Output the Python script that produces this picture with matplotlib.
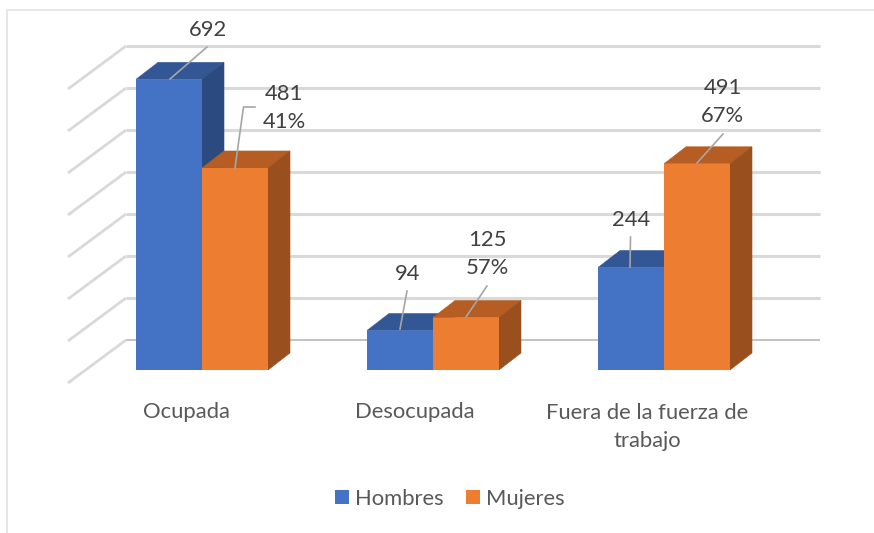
import matplotlib
matplotlib.use('Agg')
import matplotlib.pyplot as plt
from matplotlib.patches import Polygon

plt.rcParams['font.family'] = ['Lato', 'DejaVu Sans']

categories = ['Ocupada', 'Desocupada', 'Fuera de la fuerza de\ntrabajo']
hombres = [692, 94, 244]
mujeres = [481, 125, 491]
pct_mujeres = ['41%', '57%', '67%']
grid_values = [0, 100, 200, 300, 400, 500, 600, 700]

colors_h = ('#4472C4', '#335795', '#2A4A80')  # front, top, side
colors_m = ('#ED7D31', '#B55D22', '#99501E')

# pixel sizes of the picture
W, H = 874, 533
k = 0.42       # pixels per unit
x_step = 231   # pixels per category
x0, y0 = 202, 370
bar_w = 66 / x_step
dx, dy = 22 / x_step, 17 / k
font_size = 15.8


def px(x, y):
    return (x - x0) / x_step, (y0 - y) / k


fig = plt.figure(figsize=(W / 100, H / 100), dpi=100)
ax = fig.add_axes([0, 0, 1, 1])
ax.set_xlim(px(0, 0)[0], px(W, 0)[0])
ax.set_ylim(px(0, H)[1], px(0, 0)[1])
ax.axis('off')

# outer frame of the chart area
ax.plot(*zip(px(6.5, H), px(6.5, 9.5), px(W, 9.5)), color='#e6e6e6', lw=1.4, zorder=0)

# left wall and back wall grid
back_off = 30 / k
xl, xr, xf = px(126, 0)[0], px(820, 0)[0], px(68, 0)[0]
for v in grid_values:
    ax.plot([xf, xl], [v + back_off - 43 / k, v + back_off],
            color='#d9d9d9', lw=2.0, solid_capstyle='butt', zorder=1)
    col = '#bdbdbd' if v == 0 else '#d9d9d9'
    lw = 1.3 if v == 0 else 2.2
    ax.plot([xl, xr], [v + back_off, v + back_off], color=col, lw=lw, solid_capstyle='butt', zorder=1)


def bar3d(x, v, cols, label=None):
    left, right = x, x + bar_w
    ax.add_patch(Polygon([(left, v), (right, v), (right + dx, v + dy), (left + dx, v + dy)],
                         closed=True, fc=cols[1], ec=cols[1], lw=0.4, zorder=3))
    ax.add_patch(Polygon([(right, 0), (right + dx, dy), (right + dx, v + dy), (right, v)],
                         closed=True, fc=cols[2], ec=cols[2], lw=0.4, zorder=3))
    ax.bar(left, v, width=bar_w, align='edge', color=cols[0], label=label, zorder=3, snap=False)


for i in range(3):
    bar3d(i - bar_w, hombres[i], colors_h, 'Hombres' if i == 0 else None)
    bar3d(i, mujeres[i], colors_m, 'Mujeres' if i == 0 else None)

# category labels
cat_x = [-16 / x_step, 1 - 18 / x_step, 2 - 17 / x_step]
cat_y = [px(0, 412)[1], px(0, 412)[1], px(0, 427)[1]]
for c, x, y in zip(categories, cat_x, cat_y):
    ax.text(x, y, c, ha='center', va='center', fontsize=font_size, color='#595959', linespacing=1.5)

# data labels with leader lines, text centre and leader path in pixels
label_text = [str(hombres[0]), f'{mujeres[0]}\n{pct_mujeres[0]}',
              str(hombres[1]), f'{mujeres[1]}\n{pct_mujeres[1]}',
              str(hombres[2]), f'{mujeres[2]}\n{pct_mujeres[2]}']
label_pos = [(207.5, 30.5), (284.5, 107.5), (407.5, 273.5), (487.5, 254.5), (631, 219.5), (722.5, 101.5)]
leaders = [[(170, 79), (207, 47)],
           [(235, 168), (243.5, 107), (255, 107)],
           [(400, 329), (407, 291)],
           [(466, 317), (487, 286)],
           [(630, 267), (630.5, 237)],
           [(697, 163), (723, 134)]]
for t, p, path in zip(label_text, label_pos, leaders):
    ax.text(*px(*p), t, ha='center', va='center', fontsize=font_size, color='#404040', linespacing=1.5, zorder=5)
    ax.plot(*zip(*[px(*q) for q in path]), color='#a6a6a6', lw=1.2, zorder=4)

ax.legend(loc='center', bbox_to_anchor=(450 / W, 1 - 499 / H), ncol=2, frameon=False,
          fontsize=font_size, labelcolor='#595959', handlelength=0.62, handleheight=0.62,
          handletextpad=0.3, columnspacing=1.0, borderpad=0)

plt.savefig('out.png', dpi=100)
